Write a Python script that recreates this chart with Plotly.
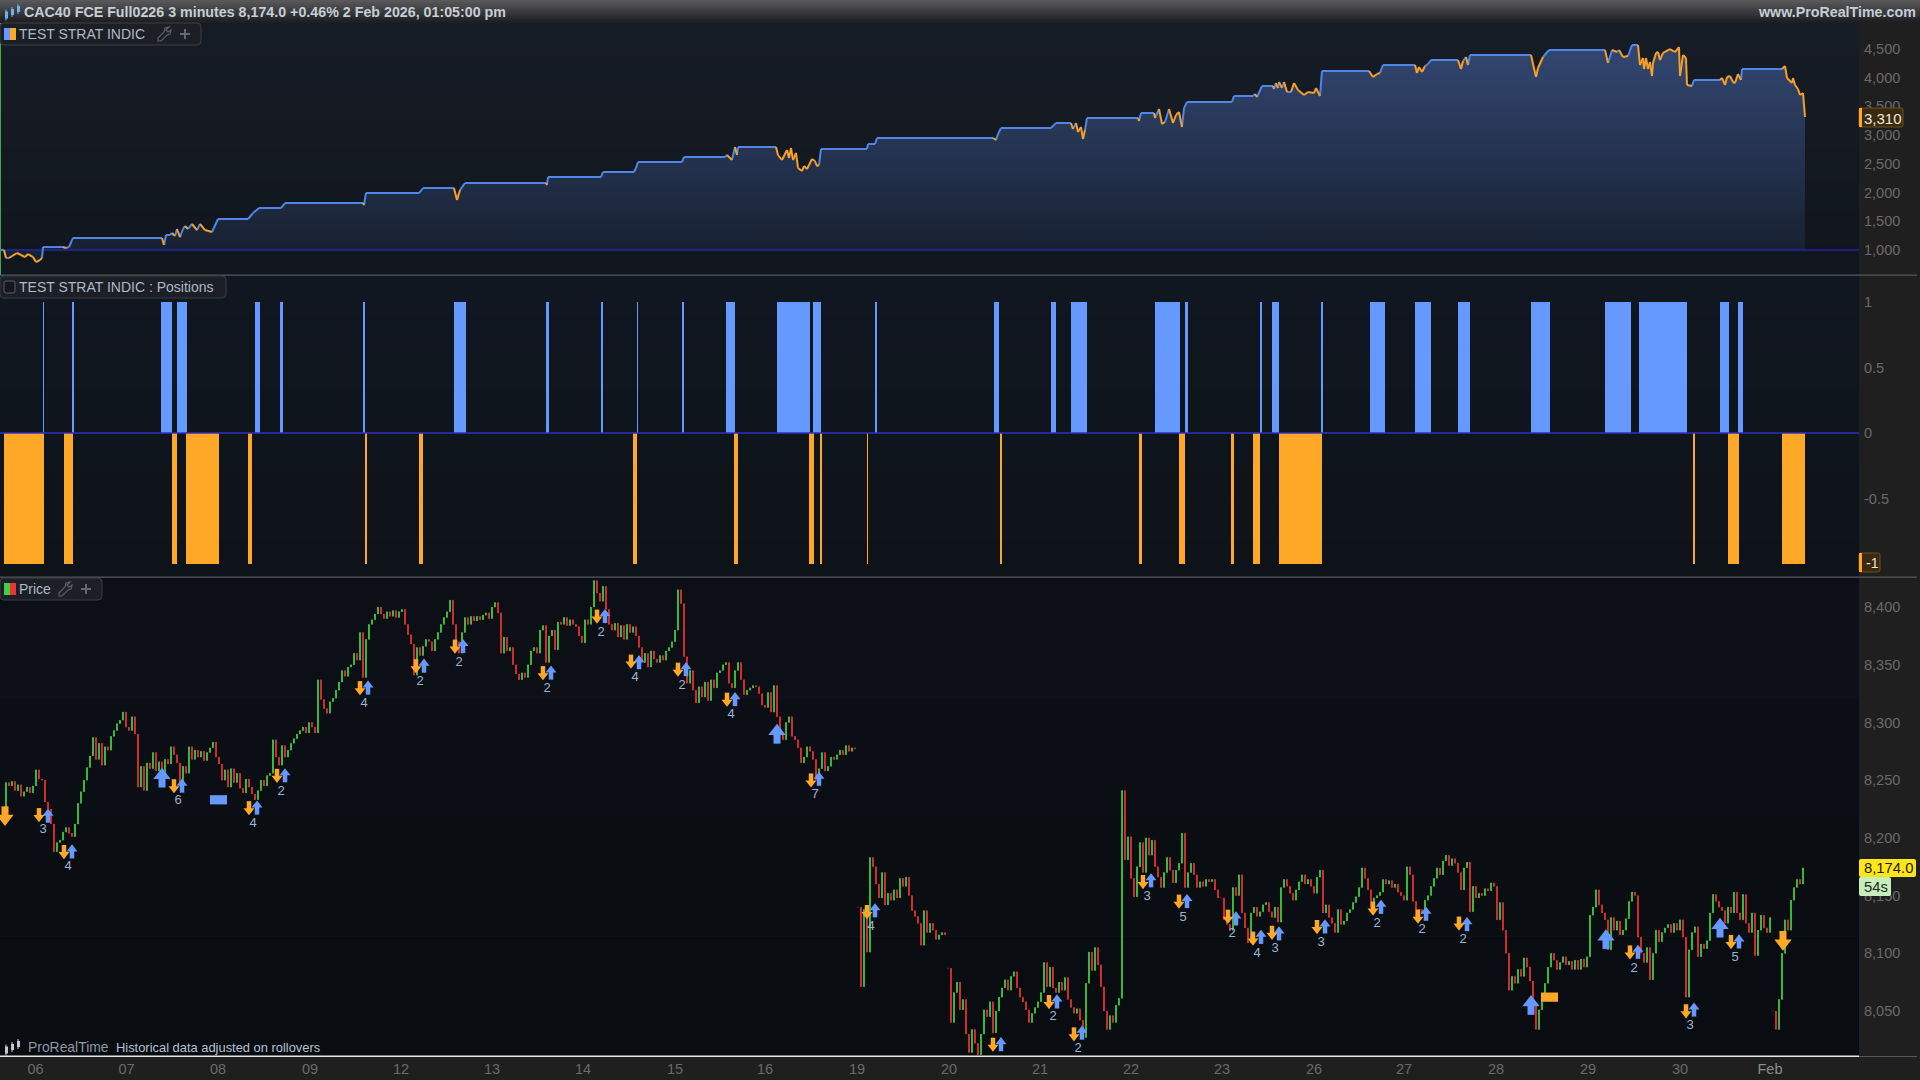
import plotly.graph_objects as go

W, H = 1920, 1080
PLOT_R = 1859

# ---------- x tick labels (time index) ----------
tick_pos = [35.5, 126.5, 218, 310, 401, 492, 583, 675, 765, 857, 949, 1040, 1131, 1222, 1314, 1404, 1496, 1588, 1680, 1770]
tick_lab = ["06", "07", "08", "09", "12", "13", "14", "15", "16", "19", "20", "21", "22", "23", "26", "27", "28", "29", "30",
            '<span style="color:#8c8c8c">Feb</span>']

# ---------- equity curve: (time index, equity) ----------
equity_points = [
    (0, 1000), (4, 1000), (6, 861), (9, 861), (17, 948), (21, 913), (25, 878), (28, 930), (33, 878), (36, 791),
    (40, 826), (42, 861), (43, 1052), (63, 1052), (66, 1035), (69, 1052), (72, 1174), (73, 1209), (162, 1209),
    (164, 1087), (166, 1261), (170, 1261), (172, 1296), (175, 1244), (177, 1366), (180, 1226), (183, 1366),
    (185, 1418), (188, 1366), (192, 1453), (197, 1348), (200, 1453), (205, 1348), (212, 1313), (218, 1540),
    (248, 1540), (253, 1644), (259, 1731), (281, 1731), (285, 1818), (363, 1818), (364, 1783), (366, 1992),
    (419, 1992), (423, 2079), (454, 2079), (457, 1871), (460, 2045), (465, 2166), (546, 2166), (547, 2132),
    (548, 2271), (601, 2271), (603, 2358), (634, 2358), (636, 2428), (638, 2532), (682, 2532), (684, 2619),
    (725, 2619), (727, 2654), (732, 2567), (735, 2793), (737, 2654), (738, 2793), (776, 2793), (778, 2654),
    (782, 2567), (787, 2741), (789, 2602), (791, 2776), (793, 2567), (796, 2689), (798, 2428), (802, 2375),
    (804, 2462), (807, 2410), (812, 2584), (815, 2549), (817, 2462), (819, 2480), (821, 2758), (867, 2758),
    (868, 2845), (875, 2845), (877, 2950), (993, 2950), (996, 2915), (998, 3020), (1001, 3124), (1051, 3124),
    (1054, 3176), (1056, 3211), (1071, 3211), (1073, 3107), (1076, 3211), (1078, 3054), (1081, 3141), (1083, 2932),
    (1085, 3089), (1087, 3298), (1138, 3298), (1139, 3246), (1141, 3385), (1154, 3385), (1155, 3298), (1159, 3455),
    (1162, 3194), (1165, 3228), (1169, 3455), (1173, 3211), (1176, 3350), (1179, 3403), (1182, 3141), (1184, 3472),
    (1187, 3577), (1232, 3577), (1234, 3681), (1253, 3681), (1255, 3716), (1257, 3664), (1262, 3855), (1273, 3855),
    (1274, 3803), (1276, 3907), (1278, 3820), (1279, 3925), (1282, 3820), (1284, 3925), (1287, 3751), (1291, 3751),
    (1294, 3907), (1298, 3786), (1304, 3699), (1308, 3751), (1314, 3733), (1316, 3820), (1320, 3681), (1322, 4116),
    (1369, 4116), (1373, 4012), (1377, 4064), (1380, 4082), (1383, 4221), (1415, 4221), (1417, 4082), (1419, 4186),
    (1422, 4099), (1425, 4203), (1428, 4238), (1431, 4308), (1458, 4308), (1461, 4151), (1463, 4290), (1466, 4360),
    (1468, 4221), (1470, 4395), (1531, 4395), (1536, 4012), (1538, 4169), (1543, 4360), (1549, 4482), (1605, 4482),
    (1608, 4256), (1612, 4482), (1617, 4447), (1619, 4482), (1623, 4360), (1628, 4378), (1632, 4569), (1638, 4569),
    (1640, 4221), (1643, 4343), (1644, 4151), (1646, 4343), (1648, 4151), (1650, 4273), (1652, 4029), (1653, 4256),
    (1656, 4430), (1658, 4447), (1660, 4308), (1663, 4430), (1670, 4499), (1675, 4447), (1679, 4534), (1680, 4029),
    (1683, 4395), (1686, 4343), (1687, 3873), (1692, 3855), (1694, 3960), (1720, 3960), (1722, 3995), (1725, 3873),
    (1727, 4012), (1730, 4029), (1733, 3925), (1735, 3907), (1738, 4064), (1741, 3960), (1742, 4151), (1782, 4151),
    (1785, 4203), (1787, 3995), (1792, 3907), (1793, 3995), (1795, 3873), (1798, 3803), (1800, 3699), (1803, 3733),
    (1805, 3316)]
eq_x = [p[0] for p in equity_points]
eq_y = [p[1] for p in equity_points]

# ---------- position bars (time index start / end) ----------
long_start = [43, 72, 161, 177, 255, 280, 363, 454, 546, 601, 637, 682, 726, 777, 813, 875, 994, 1051, 1071, 1155, 1185, 1260, 1272, 1321, 1370, 1415, 1458, 1531, 1605, 1639, 1720, 1738]
long_end = [44, 74, 172, 187, 260, 283, 365, 466, 549, 603, 638, 684, 735, 810, 821, 877, 999, 1056, 1087, 1180, 1188, 1262, 1279, 1323, 1385, 1431, 1470, 1550, 1631, 1687, 1729, 1743]
short_start = [4, 64, 172, 186, 248, 365, 419, 633, 734, 809, 820, 867, 1000, 1139, 1179, 1231, 1253, 1279, 1693, 1728, 1782]
short_end = [44, 73, 177, 219, 252, 367, 423, 637, 738, 814, 822, 868, 1002, 1142, 1185, 1234, 1260, 1322, 1695, 1739, 1805]

# ---------- price closes: three-unit spacing per session ----------
session_a_start = 0
session_a_close = [
    8218, 8226, 8248, 8245, 8249, 8241, 8246, 8236, 8240, 8244,
    8239, 8245, 8259, 8251, 8250, 8231, 8225, 8212, 8188, 8196,
    8198, 8205, 8209, 8204, 8201, 8212, 8230, 8240, 8250, 8261,
    8271, 8287, 8268, 8282, 8263, 8279, 8276, 8288, 8293, 8299,
    8302, 8309, 8296, 8293, 8305, 8290, 8244, 8262, 8241, 8265,
    8260, 8274, 8258, 8266, 8255, 8268, 8264, 8279, 8272, 8265,
    8248, 8262, 8256, 8279, 8268, 8276, 8270, 8275, 8267, 8274,
    8278, 8283, 8270, 8264, 8250, 8259, 8244, 8260, 8248, 8256,
    8243, 8239, 8251, 8244, 8238, 8233, 8241, 8250, 8245, 8254,
    8256, 8285, 8270, 8263, 8280, 8270, 8276, 8282, 8286, 8290,
    8293, 8296, 8291, 8300, 8296, 8291, 8337, 8320, 8312, 8308,
    8318, 8321, 8328, 8335, 8345, 8340, 8348, 8350, 8360, 8354,
    8378, 8339, 8372, 8385, 8389, 8394, 8400, 8394, 8390, 8396,
    8392, 8397, 8391, 8396, 8398, 8385, 8376, 8368, 8341, 8365,
    8358, 8366, 8372, 8370, 8362, 8372, 8378, 8385, 8391, 8396,
    8406, 8385, 8370, 8360, 8378, 8391, 8385, 8392, 8388, 8392,
    8389, 8393, 8395, 8390, 8400, 8404, 8395, 8360, 8374, 8362,
    8365, 8350, 8342, 8337, 8343, 8339, 8350, 8362, 8365, 8360,
    8380, 8384, 8352, 8375, 8380, 8363, 8387, 8385, 8391, 8384,
    8389, 8385, 8383, 8375, 8369, 8389, 8385, 8400, 8423, 8412,
    8405, 8418, 8398, 8385, 8380, 8386, 8374, 8384, 8372, 8385,
    8378, 8383, 8375, 8365, 8352, 8360, 8348, 8362, 8355, 8352,
    8358, 8354, 8362, 8365, 8370, 8380, 8415, 8403, 8357, 8334,
    8345, 8328, 8317, 8331, 8322, 8335, 8319, 8337, 8330, 8343,
    8345, 8350, 8352, 8334, 8330, 8345, 8352, 8337, 8324, 8328,
    8330, 8332, 8331, 8325, 8315, 8313, 8326, 8309, 8332, 8305,
    8290, 8285, 8300, 8305, 8288, 8285, 8278, 8265, 8270, 8279,
    8275, 8268, 8250, 8260, 8274, 8258, 8262, 8270, 8268, 8272,
    8276, 8272, 8280, 8275, 8278, 8277]
session_b_start = 858
session_b_close = [
    8140, 8071, 8138, 8101, 8183, 8175, 8160, 8148, 8170, 8142,
    8152, 8146, 8155, 8148, 8165, 8158, 8166, 8150, 8137, 8132,
    8126, 8107, 8137, 8118, 8126, 8120, 8112, 8116, 8118, 8116]
session_c_start = 948
session_c_close = [
    8087, 8040, 8066, 8075, 8051, 8060, 8030, 8014, 8034, 8022,
    8012, 8030, 8051, 8045, 8058, 8031, 8050, 8062, 8070, 8077,
    8068, 8080, 8084, 8070, 8062, 8058, 8051, 8040, 8048, 8053,
    8058, 8066, 8092, 8071, 8088, 8070, 8066, 8075, 8068, 8079,
    8060, 8053, 8048, 8052, 8042, 8027, 8074, 8101, 8085, 8105,
    8090, 8071, 8050, 8034, 8046, 8040, 8055, 8061, 8241, 8181,
    8201, 8165, 8149, 8175, 8196, 8170, 8200, 8185, 8198, 8175,
    8166, 8157, 8170, 8183, 8172, 8161, 8172, 8178, 8204, 8157,
    8170, 8178, 8168, 8157, 8162, 8158, 8164, 8162, 8164, 8155,
    8148, 8148, 8129, 8125, 8120, 8157, 8150, 8168, 8135, 8122,
    8109, 8135, 8140, 8132, 8136, 8142, 8144, 8136, 8131, 8140,
    8127, 8157, 8164, 8158, 8152, 8146, 8155, 8162, 8168, 8160,
    8164, 8158, 8152, 8166, 8172, 8135, 8142, 8131, 8126, 8118,
    8138, 8125, 8128, 8135, 8138, 8144, 8149, 8157, 8174, 8165,
    8155, 8140, 8148, 8150, 8153, 8164, 8160, 8163, 8157, 8160,
    8153, 8150, 8146, 8175, 8168, 8145, 8129, 8138, 8134, 8146,
    8150, 8158, 8165, 8174, 8168, 8180, 8185, 8176, 8182, 8178,
    8170, 8155, 8174, 8179, 8136, 8158, 8148, 8152, 8150, 8156,
    8154, 8161, 8158, 8129, 8144, 8120, 8100, 8068, 8080, 8074,
    8086, 8080, 8096, 8088, 8076, 8057, 8034, 8051, 8062, 8074,
    8088, 8100, 8094, 8086, 8092, 8097, 8090, 8093, 8086, 8094,
    8086, 8095, 8088, 8097, 8133, 8140, 8155, 8142, 8135, 8129,
    8103, 8131, 8120, 8128, 8116, 8120, 8130, 8145, 8153, 8150,
    8114, 8100, 8092, 8105, 8077, 8100, 8120, 8110, 8118, 8122,
    8125, 8118, 8126, 8120, 8129, 8114, 8062, 8103, 8118, 8123,
    8097, 8108, 8104, 8111, 8135, 8151, 8145, 8140, 8137, 8126,
    8140, 8135, 8153, 8135, 8129, 8151, 8126, 8118, 8135, 8098,
    8120, 8133, 8122, 8118, 8131]
session_d_start = 1773
session_d_close = [8050, 8034, 8060, 8100, 8129, 8120, 8146, 8157, 8164, 8160, 8174]

# ---------- trade markers on the price panel ----------
down_x = [39, 64, 174, 249, 277, 360, 416, 455, 543, 597, 631, 678, 727, 811, 867, 993, 1049, 1074, 1143, 1179, 1228, 1253, 1272, 1317, 1373, 1418, 1459, 1630, 1686, 1731]
down_y = [8219, 8187, 8244, 8225, 8253, 8329, 8348, 8365, 8342, 8391, 8352, 8345, 8319, 8249, 8135, 8020, 8057, 8029, 8161, 8144, 8131, 8112, 8117, 8122, 8138, 8131, 8125, 8100, 8049, 8109]
up_x = [48, 72, 182, 257, 285, 368, 424, 463, 551, 605, 639, 686, 735, 819, 875, 1001, 1057, 1082, 1151, 1187, 1236, 1261, 1279, 1325, 1381, 1426, 1467, 1638, 1694, 1739]
up_y = [8220, 8189, 8246, 8227, 8255, 8331, 8350, 8367, 8344, 8393, 8353, 8347, 8321, 8252, 8138, 8022, 8059, 8032, 8164, 8146, 8131, 8115, 8118, 8124, 8141, 8135, 8126, 8102, 8052, 8111]
label_x = [43, 68, 178, 253, 281, 364, 420, 459, 547, 601, 635, 682, 731, 815, 871, 1053, 1078, 1147, 1183, 1232, 1257, 1275, 1321, 1377, 1422, 1463, 1634, 1690, 1735]
label_y = [8207, 8175, 8232, 8212, 8240, 8316, 8335, 8352, 8329, 8378, 8339, 8332, 8307, 8237, 8123, 8045, 8017, 8149, 8131, 8117, 8100, 8104, 8109, 8126, 8120, 8112, 8087, 8037, 8096]
label_txt = ["3", "4", "6", "4", "2", "4", "2", "2", "2", "2", "4", "2", "4", "7", "4", "2", "2", "3", "5", "2", "4", "3", "3", "2", "2", "2", "2", "3", "5"]
big_up_x = [162, 777, 1531, 1606, 1720]
big_up_y = [8253, 8291, 8056, 8113, 8123]
big_down_x = [5, 1783]
big_down_y = [8218, 8110]
hold_long = [210, 227, 8229, 8237]
hold_short = [1541, 1558, 8058, 8066]

# ---------- panel tick values ----------
eq_ticks = [1000, 1500, 2000, 2500, 3000, 3500, 4000, 4500]
pos_ticks = [1, 0.5, 0, -0.5]
pos_tick_txt = ["1", "0.5", "0", "-0.5"]
px_ticks = [8050, 8100, 8150, 8200, 8250, 8300, 8350, 8400]

BLUE = "#6699ff"
ORANGE = "#ffa726"
LABEL_FONT = "Liberation Sans"
PRICE_PER_PX = (8425.2 - 8011) / 478


def fx(px):
    return px / W


def fy(py):
    return 1 - py / H


shapes, annos = [], []


def rect(x0, y0, x1, y1, fill, layer="below", line=None, lw=1):
    shapes.append(dict(type="rect", xref="paper", yref="paper", x0=fx(x0), x1=fx(x1), y0=fy(y0), y1=fy(y1),
                       fillcolor=fill, layer=layer,
                       line=dict(color=line, width=lw) if line else dict(width=0)))


def rrect(x0, y0, x1, y1, r, fill, line=None, lw=1):
    path = (f"M{fx(x0+r)},{fy(y0)} L{fx(x1-r)},{fy(y0)} Q{fx(x1)},{fy(y0)} {fx(x1)},{fy(y0+r)} "
            f"L{fx(x1)},{fy(y1-r)} Q{fx(x1)},{fy(y1)} {fx(x1-r)},{fy(y1)} L{fx(x0+r)},{fy(y1)} "
            f"Q{fx(x0)},{fy(y1)} {fx(x0)},{fy(y1-r)} L{fx(x0)},{fy(y0+r)} Q{fx(x0)},{fy(y0)} {fx(x0+r)},{fy(y0)} Z")
    shapes.append(dict(type="path", xref="paper", yref="paper", path=path, fillcolor=fill, layer="above",
                       line=dict(color=line, width=lw) if line else dict(width=0)))


def text(px, py, s, size=14, color="#b8c4d0", anchor="left", bold=False, family=LABEL_FONT):
    if bold:
        s = f"<b>{s}</b>"
    annos.append(dict(xref="paper", yref="paper", x=fx(px), y=fy(py), text=s, showarrow=False, xanchor=anchor,
                      yanchor="middle", borderpad=0, font=dict(family=family, size=size, color=color)))


def band(x0, x1, y0, y1, top, bottom, n):
    def lerp(a, b, t):
        return tuple(round(a[i] + (b[i] - a[i]) * t) for i in range(3))
    for i in range(n):
        c = lerp(top, bottom, i / max(n - 1, 1))
        a = y0 + (y1 - y0) * i / n
        b = y0 + (y1 - y0) * (i + 1) / n
        rect(x0, a, x1, b, "rgb(%d,%d,%d)" % c)


def logo(x, y, color):
    for dx, dy, h in ((0, 3, 7), (6, 0, 6), (12, -3, 6)):
        shapes.append(dict(type="line", xref="paper", yref="paper", x0=fx(x + dx + 1), x1=fx(x + dx + 1),
                           y0=fy(y + dy - h / 2 - 2), y1=fy(y + dy + h / 2 + 2), layer="above",
                           line=dict(color=color, width=1)))
        rect(x + dx, y + dy - h / 2, x + dx + 3, y + dy + h / 2, color, layer="above")


def wrench(x, y, color="#5c6064"):
    path = (f"M{fx(x+6)},{fy(y-7)} L{fx(x+2)},{fy(y-6)} L{fx(x+1)},{fy(y-2)} L{fx(x-5)},{fy(y+4)} L{fx(x-5)},{fy(y+7)} "
            f"L{fx(x-2)},{fy(y+7)} L{fx(x+4)},{fy(y+1)} L{fx(x+7)},{fy(y)} L{fx(x+8)},{fy(y-4)} L{fx(x+5)},{fy(y-2)} "
            f"L{fx(x+3)},{fy(y-4)} Z")
    shapes.append(dict(type="path", xref="paper", yref="paper", path=path, layer="above",
                       line=dict(color=color, width=1.2)))


def plus(x, y, color="#66696c"):
    rect(x - 5, y - 1, x + 5, y + 1, color, layer="above")
    rect(x - 1, y - 5, x + 1, y + 5, color, layer="above")


# ---------- chrome ----------
band(0, W, 0, 22, (88, 88, 90), (32, 33, 36), 11)
band(0, PLOT_R, 23, 275, (22, 28, 37), (17, 22, 30), 8)
band(0, PLOT_R, 276, 577, (16, 23, 32), (14, 19, 25), 8)
band(0, PLOT_R, 578, 1056, (12, 16, 22), (9, 12, 17), 8)

fig = go.Figure()

# ---------- panel 1: equity ----------
fig.add_trace(go.Scatter(x=[eq_x[0], eq_x[-1]], y=[1000, 1000], mode="lines", line=dict(width=0),
                         xaxis="x", yaxis="y", hoverinfo="skip", showlegend=False))
fig.add_trace(go.Scatter(x=eq_x, y=eq_y, mode="lines", line=dict(width=0), fill="tonexty",
                         fillgradient=dict(type="vertical", start=1000, stop=4500,
                                           colorscale=[[0, "rgb(24,33,50)"], [1, "rgb(50,70,112)"]]),
                         xaxis="x", yaxis="y", hoverinfo="skip", showlegend=False))
fig.add_trace(go.Scatter(x=[0, PLOT_R], y=[1000, 1000], mode="lines", line=dict(color="#2a2ae0", width=1.2),
                         xaxis="x", yaxis="y", showlegend=False))

blue_x, blue_y, or_x, or_y = [], [], [], []
peak = eq_y[0]
for i in range(len(eq_x) - 1):
    a, b = eq_y[i], eq_y[i + 1]
    flat_next = i + 2 < len(eq_y) and eq_y[i + 2] == b
    is_blue = a == b or b >= peak or (b > a and flat_next)
    if is_blue:
        blue_x += [eq_x[i], eq_x[i + 1], None]
        blue_y += [a, b, None]
    else:
        or_x += [eq_x[i], eq_x[i + 1], None]
        or_y += [a, b, None]
    peak = max(peak, b)
fig.add_trace(go.Scatter(x=blue_x, y=blue_y, mode="lines", line=dict(color="#4f86e8", width=2),
                         xaxis="x", yaxis="y", showlegend=False))
fig.add_trace(go.Scatter(x=or_x, y=or_y, mode="lines", line=dict(color="#f5a02a", width=2),
                         xaxis="x", yaxis="y", showlegend=False))

# ---------- panel 2: positions ----------
fig.add_trace(go.Bar(x=[(a + b) / 2 for a, b in zip(long_start, long_end)],
                     width=[b - a for a, b in zip(long_start, long_end)],
                     y=[1] * len(long_start), marker=dict(color=BLUE, line=dict(width=0)),
                     xaxis="x2", yaxis="y2", showlegend=False))
fig.add_trace(go.Bar(x=[(a + b) / 2 for a, b in zip(short_start, short_end)],
                     width=[b - a for a, b in zip(short_start, short_end)],
                     y=[-1] * len(short_start), marker=dict(color=ORANGE, line=dict(width=0)),
                     xaxis="x2", yaxis="y2", showlegend=False))
fig.add_trace(go.Scatter(x=[0, PLOT_R], y=[0, 0], mode="lines", line=dict(color="#3030c0", width=1.5),
                         xaxis="x2", yaxis="y2", showlegend=False))

# ---------- panel 3: price ----------
cx, co, ch, cl, cc = [], [], [], [], []
for start, closes in ((session_a_start, session_a_close), (session_b_start, session_b_close),
                      (session_c_start, session_c_close), (session_d_start, session_d_close)):
    prev = closes[0]
    for i, c in enumerate(closes):
        cx.append(start + 3 * i)
        co.append(prev)
        cc.append(c)
        ch.append(max(prev, c))
        cl.append(min(prev, c))
        prev = c
fig.add_trace(go.Candlestick(x=cx, open=co, high=ch, low=cl, close=cc, xaxis="x3", yaxis="y3", whiskerwidth=0,
                             increasing=dict(line=dict(color="#45e045", width=1), fillcolor="#45e045"),
                             decreasing=dict(line=dict(color="#ff3535", width=1), fillcolor="#ff3535"),
                             showlegend=False))


def arrows(x, y, direction, color, head, stem_w, stem_len, head_off, stem_off):
    # direction +1 points down on screen (price falls), -1 points up on screen
    head_y = [v - direction * head_off * PRICE_PER_PX for v in y]
    stem_y = [v + direction * stem_off * PRICE_PER_PX for v in y]
    fig.add_trace(go.Scatter(x=x, y=stem_y, mode="markers", xaxis="x3", yaxis="y3", showlegend=False,
                             marker=dict(symbol="line-ns", size=stem_len, line=dict(color=color, width=stem_w))))
    fig.add_trace(go.Scatter(x=x, y=head_y, mode="markers", xaxis="x3", yaxis="y3", showlegend=False,
                             marker=dict(symbol="triangle-down" if direction > 0 else "triangle-up", size=head,
                                         color=color, line=dict(width=0))))


arrows(up_x, up_y, -1, BLUE, 9.5, 4.5, 7, 1.5, 3)
arrows(down_x, down_y, 1, ORANGE, 9.5, 4.5, 7, 1.5, 3)
arrows(big_up_x, big_up_y, -1, BLUE, 15, 7, 9, 1.5, 4.5)
arrows(big_down_x, big_down_y, 1, ORANGE, 15, 7, 9, 1.5, 4.5)
fig.add_trace(go.Scatter(x=label_x, y=label_y, mode="text", text=label_txt, textposition="middle center",
                         textfont=dict(family=LABEL_FONT, size=13, color="#9db4d4"),
                         xaxis="x3", yaxis="y3", showlegend=False))

for h, col in ((hold_long, BLUE), (hold_short, ORANGE)):
    shapes.append(dict(type="rect", xref="x3", yref="y3", x0=h[0], x1=h[1], y0=h[2], y1=h[3], fillcolor=col,
                       line=dict(width=0), layer="above"))

# ---------- separators and axis furniture ----------
rect(0, 274.5, 1917, 275.7, "#55595e", layer="above")
rect(0, 576.5, 1917, 577.7, "#55595e", layer="above")
rect(0, 1055.5, PLOT_R, 1057, "#e8e8e8", layer="above")
rect(PLOT_R, 1056, 1917, 1057, "#55595e", layer="above")
rect(0, 23, 1, 275, "#44a844", layer="above")

# legend tabs
rrect(0, 23, 201, 45, 4, "#1c2026", "#3a3e44")
rect(4, 28, 10, 40, BLUE, layer="above")
rect(10, 28, 16, 40, ORANGE, layer="above")
text(18, 34, "TEST STRAT INDIC", 14, "#aebac6")
wrench(163, 34)
plus(185, 34)
rrect(0, 276, 226, 298, 4, "#1c2026", "#3a3e44")
rrect(4, 281, 15, 293, 2, "#14181e", "#5a5e64")
text(18, 287, "TEST STRAT INDIC : Positions", 14, "#aebac6")
rrect(0, 578, 102, 600, 4, "#1c2026", "#3a3e44")
rect(4, 583, 10, 595, "#45cc45", layer="above")
rect(10, 583, 16, 595, "#ee3333", layer="above")
text(18, 589, "Price", 14, "#aebac6")
wrench(64, 589)
plus(86, 589)

# header
logo(5, 12, "#6ab4ea")
text(23, 12, "CAC40 FCE Full0226 3 minutes 8,174.0 +0.46% 2 Feb 2026, 01:05:00 pm", 14.25, "#c6ced6", bold=True)
text(1917, 12, "www.ProRealTime.com", 14.25, "#c6ced6", anchor="right", bold=True)

# footer
logo(5, 1047, "#c4c8cc")
text(26.5, 1047, "ProRealTime", 13.9, "#8e98a2")
text(115, 1047, "Historical data adjusted on rollovers", 12.9, "#b4c2d2")

# last-value tags
rrect(1859, 108, 1903, 127, 2, "#3a2a12", "#6e4e1e")
rect(1859, 108, 1862, 127, ORANGE, layer="above")
text(1863, 118, "3,310", 15, "#f0e8d8")
rrect(1859, 553, 1880, 572, 2, "#3a2a12", "#6e4e1e")
rect(1859, 553, 1862, 572, ORANGE, layer="above")
text(1865, 563, "-1", 14, "#f0e8d8")
rrect(1859, 859, 1916, 877, 2, "#ffe61a")
text(1863, 868, "8,174.0", 14.8, "#1a1a10")
rrect(1859, 877, 1891, 896, 2, "#c6edba")
text(1863, 887, "54s", 14.8, "#1a2a1a")

x_common = dict(range=[0, PLOT_R], domain=[0, PLOT_R / W], showgrid=False, zeroline=False, showline=False,
                tickmode="array", tickvals=tick_pos, ticktext=tick_lab, ticks="", showticklabels=False,
                rangeslider=dict(visible=False), fixedrange=True)
y_common = dict(side="right", showgrid=False, zeroline=False, showline=False, ticks="", ticklen=0,
                tickfont=dict(family=LABEL_FONT, size=14.5, color="#6a6a6a"), ticklabelstandoff=4,
                fixedrange=True)

fig.update_layout(
    width=W, height=H, margin=dict(l=0, r=0, t=0, b=0), autosize=False,
    paper_bgcolor="#1f1f1f", plot_bgcolor="rgba(0,0,0,0)", showlegend=False, barmode="overlay",
    boxgap=0.85,
    shapes=shapes, annotations=annos, hovermode=False,
    xaxis={**x_common, "anchor": "y"},
    xaxis2={**x_common, "anchor": "y2"},
    xaxis3={**x_common, "anchor": "y3", "showticklabels": True, "ticklabelstandoff": 2,
            "tickfont": dict(family=LABEL_FONT, size=14.5, color="#6a6a6a")},
    yaxis={**y_common, "anchor": "x", "domain": [fy(275), fy(23)], "range": [565, 4952],
           "tickvals": eq_ticks, "tickformat": ","},
    yaxis2={**y_common, "anchor": "x2", "domain": [fy(577), fy(276)], "range": [-1.099, 1.198],
            "tickvals": pos_ticks, "ticktext": pos_tick_txt},
    yaxis3={**y_common, "anchor": "x3", "domain": [fy(1056), fy(578)], "range": [8011, 8425.2],
            "tickvals": px_ticks, "tickformat": ","},
)

fig.write_html("out.html", post_script="document.body.style.margin='0';document.body.style.overflow='hidden';",
               config={"displayModeBar": False})
